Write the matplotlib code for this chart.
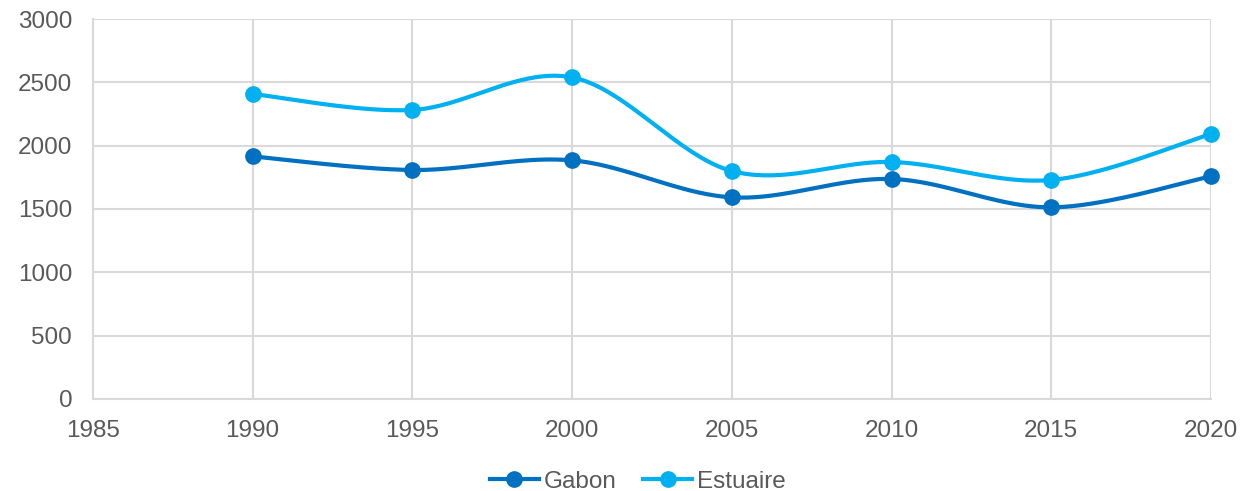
import numpy as np
import matplotlib.pyplot as plt

plt.rcParams['font.family'] = ['Liberation Sans', 'DejaVu Sans']

years = [1990, 1995, 2000, 2005, 2010, 2015, 2020]
gabon = [1915, 1808, 1884, 1592, 1737, 1513, 1757]
estuaire = [2408, 2282, 2539, 1800, 1871, 1729, 2092]

GABON_COLOR = '#0070C0'
ESTUAIRE_COLOR = '#00B0F0'
GRID_COLOR = '#D9D9D9'
TEXT_COLOR = '#595959'


def smooth_curve(x, y, steps=40):
    """cubic bezier through the points, catmull-rom style tangents"""
    x = np.asarray(x, dtype=float)
    y = np.asarray(y, dtype=float)
    n = len(x)
    xs, ys = [], []
    t = np.linspace(0, 1, steps)
    for i in range(n - 1):
        i0 = max(i - 1, 0)
        i3 = min(i + 2, n - 1)
        p0 = np.array([x[i], y[i]])
        p3 = np.array([x[i + 1], y[i + 1]])
        c1 = p0 + (p3 - np.array([x[i0], y[i0]])) / 6
        c2 = p3 - (np.array([x[i3], y[i3]]) - p0) / 6
        pts = ((1 - t) ** 3)[:, None] * p0 + (3 * (1 - t) ** 2 * t)[:, None] * c1 \
            + (3 * (1 - t) * t ** 2)[:, None] * c2 + (t ** 3)[:, None] * p3
        xs.extend(pts[:, 0])
        ys.extend(pts[:, 1])
    return xs, ys


fig = plt.figure(figsize=(12.58, 4.91), dpi=100)
ax = fig.add_axes([0.0739, 0.1874, 0.8887, 0.7739])

for vals, color, name in [(gabon, GABON_COLOR, 'Gabon'), (estuaire, ESTUAIRE_COLOR, 'Estuaire')]:
    sx, sy = smooth_curve(years, vals)
    ax.plot(sx, sy, color=color, lw=3, solid_capstyle='round', zorder=3, clip_on=False)
    ax.plot(years, vals, 'o', color=color, ms=11, zorder=4, clip_on=False)
    # legend proxy: line with marker
    ax.plot([], [], '-o', color=color, lw=3, ms=11, label=name)

ax.set_xlim(1985, 2020)
ax.set_ylim(0, 3000)
ax.set_xticks(range(1985, 2021, 5))
ax.set_yticks(range(0, 3001, 500))
ax.grid(True, color=GRID_COLOR, lw=1.5, zorder=0)
ax.set_axisbelow(True)
for s in ax.spines.values():
    s.set_visible(False)
for side in ['left', 'bottom']:
    ax.spines[side].set_visible(True)
    ax.spines[side].set_color(GRID_COLOR)
    ax.spines[side].set_linewidth(1.5)

ax.tick_params(axis='both', length=0, labelsize=17.5, labelcolor=TEXT_COLOR)
ax.tick_params(axis='y', pad=15)
ax.tick_params(axis='x', pad=15)

fig.legend(loc='lower center', bbox_to_anchor=(0.507, -0.048), ncol=2, frameon=False,
           fontsize=17.5, labelcolor=TEXT_COLOR, handlelength=2.05, handletextpad=0.2,
           columnspacing=1.05)

fig.savefig('out.png', dpi=100)
